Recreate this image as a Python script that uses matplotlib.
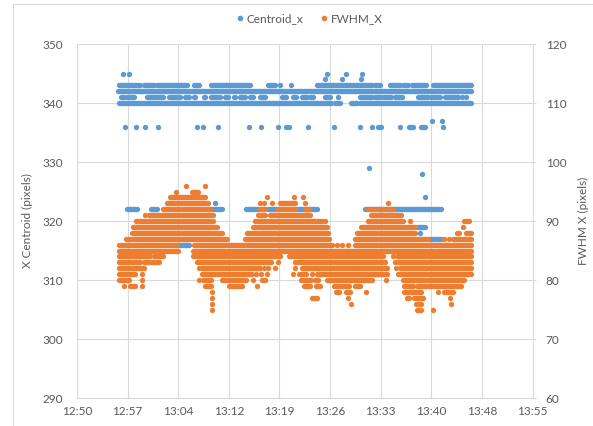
import matplotlib
matplotlib.use("Agg")
import matplotlib.pyplot as plt
from matplotlib.lines import Line2D
from matplotlib.patches import Rectangle

plt.rcParams["font.family"] = ["Lato", "DejaVu Sans"]

BLUE = "#5B9BD5"
ORANGE = "#ED7D31"
GREY = "#595959"
GRID = "#D9D9D9"

# x axis as in Excel: 0.535 .. 0.58 day, major unit 0.005 day (7.2 min)
x_min, x_max, x_step = 770.4, 835.2, 7.2
t_start = 12 * 60 + 56  # samples below are minutes after 12:56

# Each row value has a list of spans:
# (a, b) = a run of overlapping samples, a bare number = one sample.
cen_levels = [345, 344, 343, 342, 341, 340, 337, 336, 329, 328, 324, 323, 322, 319, 318, 317, 316]
cen_spans = [
    [0.9, 1.8, 30.0, 32.7, 34.9],
    [29.7, 32.1, 34.8],
    [(0.4, 3.4), (3.9, 5.3), (5.8, 10.0), (11.0, 11.7), (13.4, 19.0), (21.6, 22.6), 23.3, 24.9,
     (28.5, 36.3), (36.8, 37.5), (38.9, 40.3), (40.8, 41.5), (42.0, 44.1), (45.0, 50.5)],
    [(0.3, 50.5)],
    [(0.6, 1.1), (1.5, 2.5), (4.4, 6.7), (7.45, 9.1), (9.8, 10.3), (11.0, 11.2), (12.4, 12.65),
     (13.4, 14.8), (15.5, 15.95), (16.7, 16.9), (17.6, 18.3), (19.0, 19.5), (20.45, 21.2),
     (23.5, 24.2), (25.2, 25.6), (26.4, 27.1), (27.5, 28.0), (29.7, 30.4), 31.5, (34.6, 36.3),
     (36.8, 37.5), (37.9, 39.1), (39.6, 40.3), 40.6, (42.9, 44.3), (44.8, 46.0), (46.7, 48.6),
     49.1, 49.8],
    [(0.4, 30.5), (31.1, 31.8), (33.4, 34.2), (34.6, 50.5)],
    [44.9, 46.3],
    [1.2, 2.8, 4.1, 5.9, 11.5, 12.3, 14.45, 18.8, 20.6, 23.0, 24.1, 24.6, 27.2, 31.0, 34.6,
     36.4, (37.2, 37.7), 40.3, (41.7, 42.2), (43.4, 43.85), 46.5],
    [36.0],
    [43.5],
    [43.9],
    [14.1],
    [(1.5, 2.9), (5.0, 5.8), (13.0, 15.0), (18.5, 20.2), (21.6, 22.8), (25.5, 28.6), (35.4, 46.2)],
    [(42.9, 43.9)],
    [43.2],
    [(44.3, 46.2)],
    [(8.6, 10.4), 45.3],
]

fwhm_levels = [96, 95, 94, 93, 92, 91, 90, 89, 88, 87, 86, 85, 84, 83, 82, 81, 80, 79, 78, 77, 76, 75]
fwhm_spans = [
    [9.9, 12.6],
    [8.5, (10.7, 11.6)],
    [(7.7, 12.6), 21.4, 25.3, 26.5],
    [(7.2, 13.1), 20.5, 21.0, 22.1, (23.3, 25.4), 26.8, 38.7],
    [(6.7, 13.3), (20.5, 21.1), (23.0, 25.4), (26.8, 27.4), 35.8, 36.5, (37.2, 37.9), (38.7, 39.4)],
    [4.1, (4.6, 13.8), (20.2, 21.2), (21.8, 27.6), (36.2, 40.5)],
    [(2.8, 13.8), 19.7, (20.2, 29.2), 29.7, (35.8, 40.8), 41.8, (49.5, 50.2)],
    [(2.3, 14.3), (19.5, 30.0), (34.8, 42.5), 49.3],
    [(2.2, 15.0), (18.6, 30.1), (34.3, 42.5), (48.4, 48.8), (49.7, 50.5)],
    [(1.4, 15.7), (18.3, 30.3), (33.9, 44.3), 46.6, 47.3, (47.9, 50.5)],
    [(0.35, 8.6), (11.0, 30.7), 31.4, 32.1, 33.0, (33.9, 45.0), (45.6, 50.5)],
    [(0.35, 8.7), (10.9, 50.5)],
    [(0.35, 4.85), (5.3, 6.7), (10.9, 23.0), 23.3, (24.5, 37.9), 39.4, (39.9, 50.5)],
    [(0.35, 3.4), (3.9, 6.0), (11.5, 22.0), 23.0, 25.4, (25.9, 38.2), 39.6, (40.0, 50.5)],
    [(0.35, 3.9), 11.7, (12.2, 20.5), 21.0, 21.6, 22.6, 25.4, (26.4, 38.5), 39.8, (40.3, 50.5)],
    [(0.35, 2.7), 3.7, (12.2, 19.3), 19.9, 20.6, 21.4, 25.2, (26.0, 27.0), 27.8, (28.5, 38.5),
     (40.1, 50.5)],
    [(0.35, 1.8), 3.7, 11.7, (12.3, 13.4), (15.0, 18.5), 19.5, 20.7, 21.2, (26.3, 27.7),
     (28.2, 28.7), (29.9, 36.3), 38.4, (40.8, 49.5)],
    [1.1, (2.0, 2.7), 3.6, (12.6, 13.4), (16.0, 17.9), 20.0, (26.7, 27.6), (28.4, 29.0),
     (31.0, 33.1), (33.9, 34.6), (40.9, 42.2), (42.7, 49.0)],
    [13.6, (31.2, 31.7), (32.6, 33.2), 35.5, (40.9, 43.3), 45.8, (46.6, 47.9)],
    [13.6, (27.8, 28.5), 33.0, (41.4, 41.7), (42.3, 43.6), 47.4],
    [13.6, 33.4, (42.6, 43.3), 47.6],
    [13.6, (42.7, 43.3), 45.0],
]

DOT_PT = 3.85  # marker diameter in points (~5.3 px)


def draw_rows(ax, levels, spans, color):
    """Runs become round-capped lines (overlapping markers), lone samples dots."""
    ys, x0s, x1s, dx, dy = [], [], [], [], []
    for level, row in zip(levels, spans):
        for s in row:
            if isinstance(s, tuple):
                ys.append(level)
                x0s.append(t_start + s[0])
                x1s.append(t_start + s[1])
            else:
                dx.append(t_start + s)
                dy.append(level)
    ax.hlines(ys, x0s, x1s, colors=color, linewidth=DOT_PT, capstyle="round", zorder=3)
    ax.scatter(dx, dy, s=DOT_PT ** 2, color=color, linewidths=0, zorder=3)


fig = plt.figure(figsize=(5.93, 4.26), dpi=100)
ax = fig.add_axes([0.1298, 0.0657, 0.898 - 0.1298, 0.8967 - 0.0657])
ax2 = ax.twinx()

draw_rows(ax, cen_levels, cen_spans, BLUE)
draw_rows(ax2, fwhm_levels, fwhm_spans, ORANGE)

ax.set_xlim(x_min, x_max)
xticks = [x_min + i * x_step for i in range(10)]
ax.set_xticks(xticks)
ax.set_xticklabels([f"{int(round(t, 6) // 60)}:{int(round(t, 6) % 60):02d}" for t in xticks])
ax.set_ylim(290, 350)
ax.set_yticks(range(290, 351, 10))
ax2.set_ylim(60, 120)
ax2.set_yticks(range(60, 121, 10))

ax.grid(True, color=GRID, linewidth=0.8)
ax.set_axisbelow(True)
for a in (ax, ax2):
    for side in ("top", "left"):
        a.spines[side].set_visible(False)
    a.spines["bottom"].set_color(GRID)
    a.spines["right"].set_color(GRID)
    a.spines["bottom"].set_linewidth(0.8)
    a.spines["right"].set_linewidth(0.8)
ax2.spines["bottom"].set_visible(False)
ax.spines["right"].set_visible(False)

ax.tick_params(axis="x", length=0, pad=6, labelsize=8.5, labelcolor=GREY)
ax.tick_params(axis="y", length=0, pad=10, labelsize=8.5, labelcolor=GREY)
ax2.tick_params(axis="y", length=2.5, width=0.8, color=GRID, pad=7, labelsize=8.5, labelcolor=GREY)

ax.set_ylabel("X Centroid (pixels)", fontsize=8.5, color=GREY)
ax.yaxis.set_label_coords(-0.097, 0.5)
ax2.set_ylabel("FWHM X (pixels)", fontsize=8.5, color=GREY)
ax2.yaxis.set_label_coords(1.1, 0.5)

handles = [
    Line2D([], [], ls="", marker="o", markersize=4, markeredgewidth=0, color=BLUE),
    Line2D([], [], ls="", marker="o", markersize=4, markeredgewidth=0, color=ORANGE),
]
fig.legend(handles, ["Centroid_x", "FWHM_X"], loc="upper center", bbox_to_anchor=(0.52, 0.995),
           ncol=2, frameon=False, fontsize=8.5, labelcolor=GREY, handletextpad=0.1,
           columnspacing=1.2, handlelength=1.0)

# chart-area border (only its left and top edges are inside the screenshot)
fig.patches.append(Rectangle((13 / 593, -0.1), 1.2, 1.1 - 4 / 426, transform=fig.transFigure,
                             fill=False, edgecolor=GRID, linewidth=0.8))

fig.savefig("out.png", dpi=100)
